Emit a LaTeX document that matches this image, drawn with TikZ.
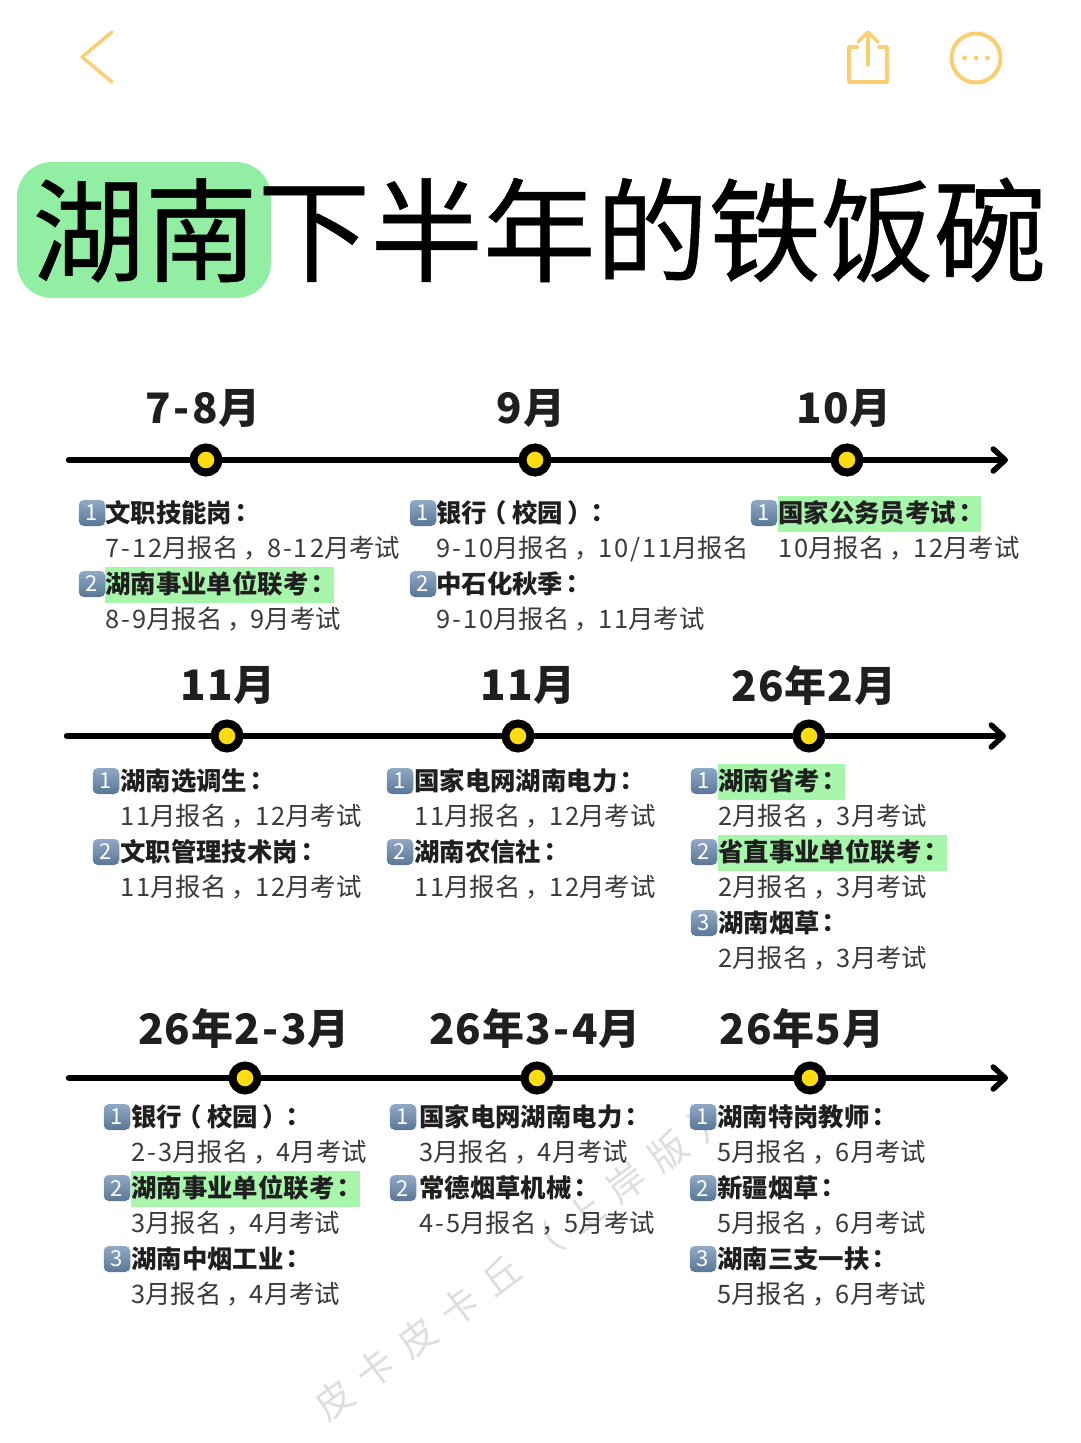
\documentclass[tikz,border=0pt]{standalone}
\usepackage{fontspec}
\setmainfont{Noto Sans CJK SC}
\newfontfamily\tcfont{Noto Sans CJK TC}
\newfontfamily\wmfont[LetterSpace=37]{Noto Sans CJK SC}
\newfontfamily\digitfont[LetterSpace=8]{Noto Sans CJK SC}
\newfontfamily\monthfont[LetterSpace=2.5]{Noto Sans CJK SC}
\newfontfamily\titlefont[FakeBold=0.4]{Noto Sans CJK SC}
\usetikzlibrary{arrows.meta}
\definecolor{iconor}{HTML}{F9CF72}
\definecolor{hlgreen}{HTML}{A8F5AC}
\definecolor{titlegreen}{HTML}{92EEA2}
\definecolor{dotyellow}{HTML}{FFDC0F}
\definecolor{badgetop}{HTML}{8FA9C6}
\definecolor{badgebot}{HTML}{5A7696}
\definecolor{subgray}{HTML}{3A3A3A}
\definecolor{wmgray}{HTML}{DEDEDE}
\newcommand{\cln}{\kern-4pt{\tcfont：}\kern4pt}
\newcommand{\cma}{\kern5pt，\kern-2pt}
\newcommand{\lpr}{\kern-6pt（\kern6pt}
\newcommand{\rpr}{\kern4pt）\kern-4pt}
\newcommand{\dg}[1]{{\digitfont #1}}
\newcommand{\hy}{\kern2.5pt-\kern2.5pt}
\tikzset{
  x=1pt,y=-1pt,
  basetext/.style={anchor=west,inner xsep=0pt,inner ysep=4pt,text height=22.4pt,text depth=5pt,font=\fontsize{25.4}{25.4}\selectfont},
  headplain/.style={basetext,text=black!88,font=\fontsize{25.4}{25.4}\selectfont\bfseries},
  headhl/.style={headplain,fill=hlgreen},
  subtext/.style={basetext,text=subgray},
  badgebox/.style={rounded corners=5pt,minimum width=26.5pt,minimum height=26pt,inner sep=0pt,top color=badgetop,bottom color=badgebot,text=white,font=\fontsize{22}{22}\selectfont},
  month/.style={font=\fontsize{42}{42}\monthfont\bfseries,text=black!88,inner sep=0pt},
  axisline/.style={line width=6.5pt,line cap=round,-{Straight Barb[length=12pt,width=22pt,line width=5.5pt,round]}},
  dotmark/.style={circle,draw=black,line width=8pt,fill=dotyellow,minimum size=25pt,inner sep=0pt},
  icon/.style={draw=iconor,line width=3.5pt,line cap=round,line join=round},
  wmark/.style={font=\fontsize{38}{38}\selectfont\wmfont,text=wmgray,rotate=36.5,inner sep=0pt}
}
\newcommand{\entry}[8]{%
  \pgfmathsetmacro{\suby}{#4+35.8}%
  \node[#8] (#1h) at (#3,#4+1) {#6\cln};
  \node[badgebox] (#1b) at (#2,#4) {#5};
  \node[subtext] (#1s) at (#3,\suby) {#7};
}
\begin{document}
\begin{tikzpicture}
\useasboundingbox (0,0) rectangle (1080,1443);
\fill[white] (0,0) rectangle (1080,1443);
% top icons
\coordinate (backA) at (112,32); \coordinate (backB) at (82,57); \coordinate (backC) at (112,82);
\draw[icon] (backA) -- (backB) -- (backC);
\draw[icon] (857,47) -- (849,47) -- (849,82) -- (887,82) -- (887,47) -- (879,47);
\draw[icon] (868,65) -- (868,33);
\draw[icon] (858,42) -- (868,32) -- (878,42);
\node[circle,draw=iconor,line width=4pt,minimum size=49pt,inner sep=0pt] (more) at (976,58) {};
\foreach \px in {964.5,976,987.5} \fill[iconor] (\px,58) circle (2.5pt);
% title
\fill[titlegreen,rounded corners=35pt] (17,162) rectangle (271,298);
\node[anchor=west,inner sep=0pt,font=\fontsize{112.7}{113}\titlefont,text=black] (title) at (32,230) {湖南下半年的铁饭碗};
% watermark
\node[wmark] (wm) at (522,1260) {皮卡皮卡丘（上岸版）};
% timeline 1
\coordinate (s1) at (69,460); \coordinate (e1) at (1008,460);
\draw[axisline] (s1) -- (e1);
\node[dotmark] (d11) at (206,460) {};
\node[dotmark] (d12) at (535,460) {};
\node[dotmark] (d13) at (847,460) {};
\node[month] (m11) at (203,408) {7\hy8月};
\node[month] (m12) at (531,408) {9月};
\node[month] (m13) at (844,408) {10月};
\entry{a1}{92}{105}{513}{1}{文职技能岗}{\dg{7-12}月报名\cma\dg{8-12}月考试}{headplain}
\entry{a2}{92}{105}{584}{2}{湖南事业单位联考}{\dg{8-9}月报名\cma\dg{9}月考试}{headhl}
\entry{b1}{423}{436}{513}{1}{银行\lpr 校园\rpr}{\dg{9-10}月报名\cma\dg{10/11}月报名}{headplain}
\entry{b2}{423}{436}{584}{2}{中石化秋季}{\dg{9-10}月报名\cma\dg{11}月考试}{headplain}
\entry{c1}{764}{778}{513}{1}{国家公务员考试}{\dg{10}月报名\cma\dg{12}月考试}{headhl}
% timeline 2
\coordinate (s2) at (67,736); \coordinate (e2) at (1006,736);
\draw[axisline] (s2) -- (e2);
\node[dotmark] (d21) at (227,736) {};
\node[dotmark] (d22) at (518,736) {};
\node[dotmark] (d23) at (809,736) {};
\node[month] (m21) at (228,685) {11月};
\node[month] (m22) at (528,685) {11月};
\node[month] (m23) at (814,685) {26年2月};
\entry{f1}{106}{120}{781}{1}{湖南选调生}{\dg{11}月报名\cma\dg{12}月考试}{headplain}
\entry{f2}{106}{120}{852}{2}{文职管理技术岗}{\dg{11}月报名\cma\dg{12}月考试}{headplain}
\entry{g1}{400}{414}{781}{1}{国家电网湖南电力}{\dg{11}月报名\cma\dg{12}月考试}{headplain}
\entry{g2}{400}{414}{852}{2}{湖南农信社}{\dg{11}月报名\cma\dg{12}月考试}{headplain}
\entry{h1}{704}{718}{781}{1}{湖南省考}{\dg{2}月报名\cma\dg{3}月考试}{headhl}
\entry{h2}{704}{718}{852}{2}{省直事业单位联考}{\dg{2}月报名\cma\dg{3}月考试}{headhl}
\entry{h3}{704}{718}{923}{3}{湖南烟草}{\dg{2}月报名\cma\dg{3}月考试}{headplain}
% timeline 3
\coordinate (s3) at (69,1078); \coordinate (e3) at (1008,1078);
\draw[axisline] (s3) -- (e3);
\node[dotmark] (d31) at (245,1078) {};
\node[dotmark] (d32) at (537,1078) {};
\node[dotmark] (d33) at (810,1078) {};
\node[month] (m31) at (244,1028) {26年2\hy3月};
\node[month] (m32) at (535,1028) {26年3\hy4月};
\node[month] (m33) at (802,1028) {26年5月};
\entry{p1}{117}{131}{1117}{1}{银行\lpr 校园\rpr}{\dg{2-3}月报名\cma\dg{4}月考试}{headplain}
\entry{p2}{117}{131}{1188}{2}{湖南事业单位联考}{\dg{3}月报名\cma\dg{4}月考试}{headhl}
\entry{p3}{117}{131}{1259}{3}{湖南中烟工业}{\dg{3}月报名\cma\dg{4}月考试}{headplain}
\entry{q1}{403}{419}{1117}{1}{国家电网湖南电力}{\dg{3}月报名\cma\dg{4}月考试}{headplain}
\entry{q2}{403}{419}{1188}{2}{常德烟草机械}{\dg{4-5}月报名\cma\dg{5}月考试}{headplain}
\entry{r1}{703}{717}{1117}{1}{湖南特岗教师}{\dg{5}月报名\cma\dg{6}月考试}{headplain}
\entry{r2}{703}{717}{1188}{2}{新疆烟草}{\dg{5}月报名\cma\dg{6}月考试}{headplain}
\entry{r3}{703}{717}{1259}{3}{湖南三支一扶}{\dg{5}月报名\cma\dg{6}月考试}{headplain}
\end{tikzpicture}
\end{document}
